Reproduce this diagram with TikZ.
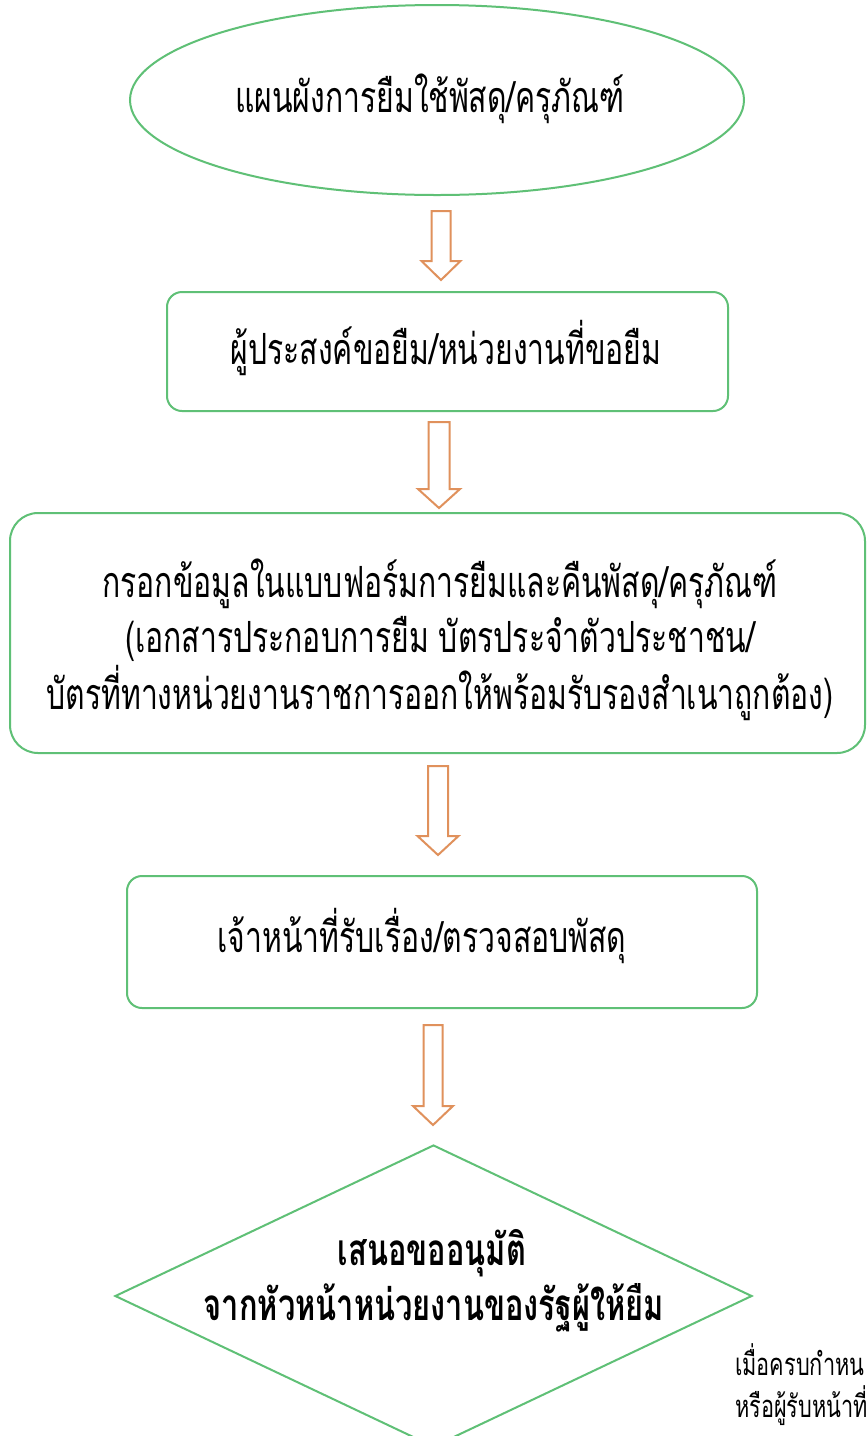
\documentclass[tikz,border=0pt]{standalone}
\usepackage{fontspec}
\newfontfamily\thai[Script=Thai, FakeStretch=0.7]{Loma}
\usetikzlibrary{shapes.geometric}
\definecolor{fgreen}{RGB}{95,192,118}
\definecolor{farrow}{RGB}{224,145,92}
\tikzset{
  flowbox/.style={draw=fgreen, line width=2pt, rounded corners=15pt, fill=white, inner sep=0pt},
  bigtxt/.style={font=\thai\fontsize{43}{56}\selectfont, inner sep=0pt},
  boldtxt/.style={font=\thai\bfseries\fontsize{44}{56}\selectfont, inner sep=0pt},
  smalltxt/.style={font=\thai\fontsize{31}{42}\selectfont, inner sep=0pt, anchor=base west},
  blockarr/.style={draw=farrow, line width=2pt, fill=white, line join=miter},
}
\newcommand\blockarrow[6]{%
  \draw[blockarr] (#1-#5,#2) -- (#1+#5,#2) -- (#1+#5,#3) -- (#1+#6,#3) -- (#1,#4) -- (#1-#6,#3) -- (#1-#5,#3) -- cycle;}
\begin{document}
\begin{tikzpicture}[x=1pt,y=-1pt]
\useasboundingbox (0,0) rectangle (867,1436);
\clip (0,0) rectangle (867,1436);
\fill[white] (0,0) rectangle (867,1436);
% start ellipse
\node[ellipse, draw=fgreen, line width=2pt, minimum width=614pt, minimum height=190pt, inner sep=0pt] (start) at (437,100) {};
\node[bigtxt, anchor=base] (tstart) at (430,112) {แผนผังการยืมใช้พัสดุ/ครุภัณฑ์};
% box 2
\node[flowbox, minimum width=561pt, minimum height=119pt] (req) at (447.5,351.5) {};
\node[bigtxt, anchor=base] (treq) at (446,364) {ผู้ประสงค์ขอยืม/หน่วยงานที่ขอยืม};
% box 3
\node[flowbox, rounded corners=28pt, minimum width=855pt, minimum height=240pt] (form) at (437.5,633) {};
\node[bigtxt, anchor=base] (tform1) at (440,597) {กรอกข้อมูลในแบบฟอร์มการยืมและคืนพัสดุ/ครุภัณฑ์};
\node[bigtxt, anchor=base] (tform2) at (440,652) {(เอกสารประกอบการยืม บัตรประจำตัวประชาชน/};
\node[bigtxt, anchor=base] (tform3) at (440,709) {บัตรที่ทางหน่วยงานราชการออกให้พร้อมรับรองสำเนาถูกต้อง)};
% box 4
\node[flowbox, minimum width=630pt, minimum height=132pt] (check) at (442,942) {};
\node[bigtxt, anchor=base] (tcheck) at (422,952) {เจ้าหน้าที่รับเรื่อง/ตรวจสอบพัสดุ};
% diamond
\node[diamond, draw=fgreen, line width=2pt, minimum width=637pt, minimum height=302pt, inner sep=0pt] (approve) at (433.5,1296) {};
\node[boldtxt, anchor=base] (tapp1) at (432,1265) {เสนอขออนุมัติ};
\node[boldtxt, anchor=base] (tapp2) at (434,1320) {จากหัวหน้าหน่วยงานของรัฐผู้ให้ยืม};
% side note
\node[smalltxt] (note1) at (735,1375) {เมื่อครบกำหน};
\node[smalltxt] (note2) at (735,1417) {หรือผู้รับหน้าที่};
% arrows
\blockarrow{441}{211}{261}{280}{9.5}{19.5}
\blockarrow{439}{422}{489}{508}{10.5}{21}
\blockarrow{438}{766}{836}{855}{10}{20.5}
\blockarrow{433}{1025}{1106}{1125}{9.5}{20}
\end{tikzpicture}
\end{document}
